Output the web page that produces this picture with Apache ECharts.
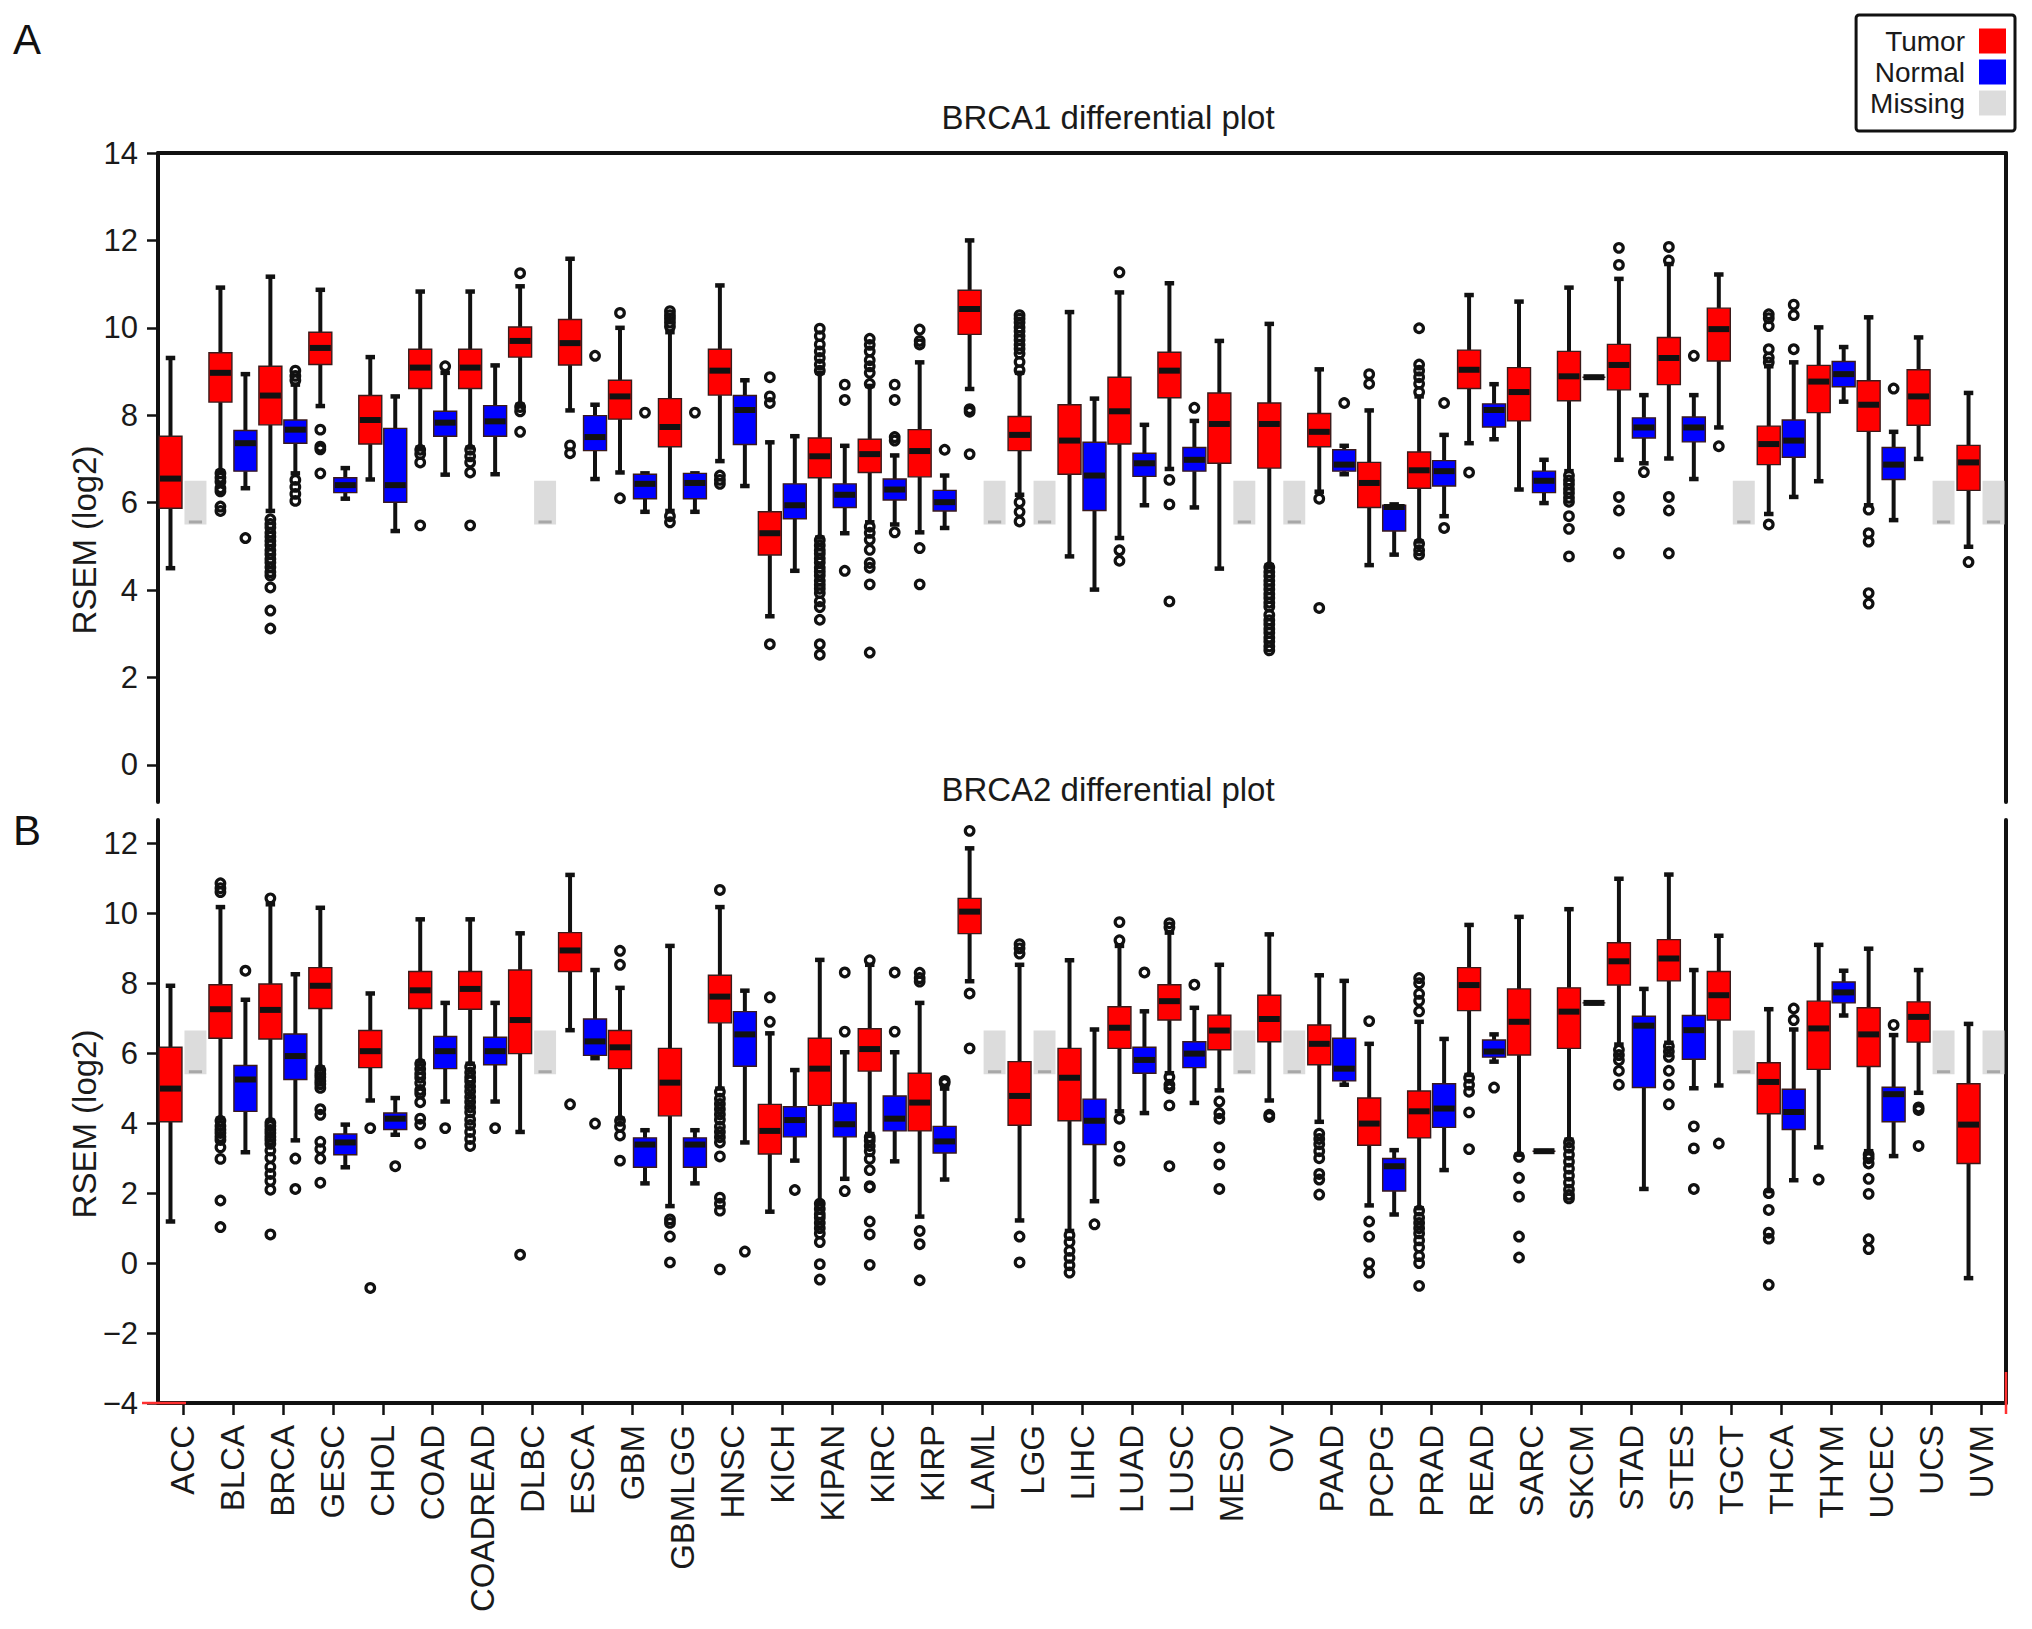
<!DOCTYPE html>
<html><head><meta charset="utf-8">
<script src="https://cdn.jsdelivr.net/npm/echarts@6/dist/echarts.min.js"></script>
<style>html,body{margin:0;padding:0;background:#fff}#c{width:2032px;height:1629px}</style>
</head><body><div id="c"></div>
<script>
// ---------- DATA ----------
const categories = ['ACC','BLCA','BRCA','GESC','CHOL','COAD','COADREAD','DLBC','ESCA','GBM','GBMLGG','HNSC','KICH','KIPAN','KIRC','KIRP','LAML','LGG','LIHC','LUAD','LUSC','MESO','OV','PAAD','PCPG','PRAD','READ','SARC','SKCM','STAD','STES','TGCT','THCA','THYM','UCEC','UCS','UVM'];

const brca1Ticks = [0, 2, 4, 6, 8, 10, 12, 14];
const brca2Ticks = [-4, -2, 0, 2, 4, 6, 8, 10, 12];

// [min, Q1, median, Q3, max]
const brca1Tumor = [
  [4.50,5.87,6.55,7.52,9.31],[6.72,8.30,8.97,9.43,10.92],[5.81,7.78,8.45,9.12,11.17],[8.21,9.16,9.54,9.90,10.87],
  [6.53,7.34,7.89,8.45,9.33],[7.26,8.61,9.09,9.51,10.83],[7.26,8.61,9.09,9.51,10.83],[8.24,9.33,9.70,10.02,10.95],
  [8.11,9.15,9.65,10.19,11.58],[6.69,7.91,8.43,8.80,10.00],[5.81,7.28,7.73,8.38,9.90],[6.95,8.46,9.02,9.51,10.97],
  [3.40,4.80,5.30,5.79,7.38],[5.20,6.57,7.06,7.48,8.97],[5.55,6.69,7.11,7.45,8.67],[5.32,6.59,7.18,7.67,9.21],
  [8.60,9.85,10.43,10.86,12.00],[6.18,7.19,7.55,7.97,8.97],[4.77,6.65,7.42,8.24,10.36],[5.19,7.34,8.09,8.87,10.81],
  [6.77,8.40,9.02,9.44,11.02],[4.49,6.90,7.80,8.51,9.70],[4.57,6.79,7.80,8.28,10.09],[6.25,7.28,7.62,8.04,9.05],
  [4.57,5.89,6.45,6.92,8.11],[5.11,6.33,6.74,7.16,8.43],[7.36,8.61,9.04,9.49,10.75],[6.30,7.87,8.53,9.09,10.60],
  [6.72,8.33,8.89,9.46,10.92],[6.98,8.58,9.15,9.62,11.12],[7.01,8.70,9.31,9.78,11.46],[7.72,9.24,9.97,10.45,11.22],
  [5.74,6.87,7.34,7.75,9.12],[6.49,8.06,8.77,9.14,10.01],[5.94,7.63,8.24,8.79,10.24],[7.00,7.77,8.43,9.04,9.78],
  [4.99,6.28,6.92,7.31,8.51]
];
const brca1Normal = [
  null,[6.33,6.72,7.36,7.65,8.94],[6.67,7.36,7.67,7.89,8.70],[6.09,6.23,6.40,6.57,6.79],
  [5.35,6.01,6.40,7.70,8.43],[6.64,7.52,7.83,8.09,8.97],[6.65,7.52,7.86,8.22,9.14],null,
  [6.54,7.19,7.50,7.99,8.24],[5.79,6.09,6.43,6.65,6.67],[5.79,6.09,6.45,6.67,6.67],[6.38,7.33,8.12,8.45,8.80],
  [4.44,5.63,5.94,6.43,7.52],[5.30,5.89,6.18,6.43,7.30],[5.50,6.06,6.30,6.54,7.08],[5.42,5.81,6.01,6.28,6.62],
  null,null,[4.01,5.82,6.62,7.38,8.38],[5.94,6.60,6.90,7.13,7.78],
  [5.89,6.72,6.98,7.26,7.87],null,null,[6.65,6.72,6.87,7.21,7.30],
  [4.81,5.35,5.90,5.94,5.96],[5.69,6.38,6.72,6.96,7.55],[7.45,7.73,8.12,8.26,8.71],[5.99,6.23,6.50,6.72,6.98],
  [8.87,8.87,8.87,8.87,8.87],[6.90,7.48,7.72,7.94,8.46],[6.54,7.39,7.72,7.96,8.46],null,
  [6.13,7.04,7.42,7.89,9.21],[8.31,8.65,8.94,9.23,9.56],[5.60,6.53,6.87,7.26,7.62],null,
  null
];
const brca1TumorOutliers = [
  [],[6.67,6.57,6.48,6.33,6.26,5.91,5.81],
  [5.62,5.51,5.43,5.31,5.22,5.12,5.03,4.91,4.82,4.71,4.63,4.52,4.41,4.33,4.06,3.53,3.12],
  [7.67,7.28,7.22,6.67],[],[7.21,7.11,6.92,5.48],[7.21,7.06,6.92,6.69,5.48],[11.25,8.19,8.09,7.62],
  [7.31,7.13],[10.34,6.10],[10.38,10.29,10.21,10.12,10.03,5.69,5.55],[6.62,6.52,6.43],[8.87,8.43,8.28,2.76],
  [9.98,9.81,9.62,9.46,9.31,9.16,9.02,5.14,5.02,4.91,4.83,4.72,4.63,4.51,4.42,4.33,4.21,4.12,4.03,3.93,3.74,3.61,3.32,2.76,2.52],
  [9.75,9.61,9.46,9.26,9.12,8.97,8.72,5.45,5.31,5.15,4.92,4.62,4.51,4.13,2.57],
  [9.96,9.70,9.62,4.96,4.13],[8.14,8.08,7.11],
  [10.29,10.21,10.12,10.01,9.92,9.81,9.72,9.61,9.52,9.41,9.22,9.03,6.01,5.79,5.57],
  [],[11.27,4.91,4.67],[6.52,5.96,3.74],[],
  [4.52,4.41,4.32,4.21,4.12,4.02,3.91,3.82,3.71,3.62,3.43,3.31,3.22,3.11,3.02,2.91,2.82,2.71,2.62],
  [6.09,3.59],[8.94,8.72],[9.99,9.16,9.02,8.87,8.72,8.53,5.06,4.91,4.81],[6.69],[],
  [6.62,6.51,6.42,6.31,6.22,6.11,6.02,5.69,5.40,4.77],[11.83,11.44,6.13,5.82,4.84],[11.85,11.54,6.13,5.82,4.84],
  [7.29],[10.31,10.22,10.04,9.51,9.32,9.21,5.50],[],[5.84,5.30,5.11,3.93,3.69],[],[4.64]
];
const brca1NormalOutliers = [
  [],[5.19],[9.02,8.90,8.80,6.52,6.36,6.20,6.04],[],[],[9.12],[],[],
  [9.36],[8.06],[8.06],[],[],[8.70,8.35,4.44],[8.70,8.35,7.50,7.42,5.32],[7.21],
  [],[],[],[],[8.17],[],[],[8.28],
  [],[8.28,5.42],[],[],[],[6.70],[9.36],[],
  [10.53,10.29,9.51],[],[8.61],[],[]
];
const brca1MissingRange = [5.5, 6.5];

const brca2Tumor = [
  [1.19,4.04,4.99,6.17,7.93],[4.13,6.43,7.26,7.96,10.18],[4.07,6.41,7.24,7.98,10.26],[5.59,7.28,7.93,8.45,10.16],
  [4.65,5.59,6.06,6.65,7.71],[5.76,7.28,7.80,8.34,9.83],[5.70,7.26,7.84,8.34,9.83],[3.75,5.99,6.95,8.38,9.43],
  [6.66,8.34,8.94,9.45,11.10],[4.13,5.56,6.17,6.65,7.87],[1.63,4.21,5.16,6.14,9.07],[4.99,6.87,7.62,8.23,10.18],
  [1.47,3.12,3.78,4.54,6.57],[1.74,4.51,5.56,6.43,8.67],[3.69,5.49,6.12,6.70,8.53],[1.33,3.78,4.59,5.43,7.44],
  [8.06,9.42,10.05,10.43,11.86],[1.22,3.94,4.78,5.76,8.53],[0.92,4.07,5.30,6.14,8.66],[4.34,6.14,6.73,7.33,9.07],
  [5.43,6.95,7.49,7.96,9.45],[4.94,6.10,6.65,7.09,8.53],[4.65,6.33,6.98,7.66,9.40],[4.04,5.67,6.27,6.81,8.23],
  [1.65,3.37,3.99,4.72,6.27],[1.57,3.58,4.34,4.92,6.90],[5.38,7.22,7.95,8.45,9.67],[3.10,5.95,6.90,7.84,9.90],
  [3.53,6.14,7.19,7.87,10.12],[6.25,7.95,8.63,9.16,10.99],[6.30,8.07,8.71,9.25,11.11],[5.08,6.95,7.66,8.34,9.36],
  [2.06,4.27,5.18,5.73,7.26],[3.31,5.54,6.71,7.49,9.10],[3.20,5.62,6.54,7.30,8.99],[4.87,6.32,7.04,7.47,8.38],
  [-0.43,2.85,3.96,5.13,6.84]
];
const brca2Normal = [
  null,[3.17,4.34,5.25,5.65,7.53],[3.51,5.25,5.92,6.55,8.26],[2.74,3.10,3.45,3.69,3.96],
  [3.67,3.82,4.13,4.29,4.72],[4.62,5.56,6.06,6.48,7.44],[4.62,5.67,6.06,6.46,7.44],null,
  [5.86,5.94,6.34,6.98,8.38],[2.28,2.74,3.39,3.58,3.80],[2.28,2.74,3.39,3.58,3.80],[3.45,5.63,6.54,7.19,7.79],
  [2.93,3.61,4.09,4.47,5.52],[2.41,3.61,3.97,4.58,6.03],[2.91,3.78,4.13,4.78,6.03],[2.39,3.15,3.48,3.91,4.99],
  null,null,[1.77,3.39,4.07,4.69,6.68],[4.29,5.43,5.81,6.17,7.20],
  [4.58,5.59,5.99,6.33,7.30],null,null,[5.10,5.21,5.56,6.43,8.07],
  [1.39,2.06,2.77,2.99,3.23],[2.66,3.88,4.42,5.13,6.41],[5.76,5.89,6.05,6.38,6.54],[3.20,3.20,3.20,3.20,3.20],
  [7.44,7.44,7.44,7.44,7.44],[2.12,5.02,6.79,7.06,7.84],[5.00,5.83,6.66,7.08,8.38],null,
  [2.37,3.82,4.32,4.97,6.68],[7.08,7.44,7.74,8.04,8.36],[3.06,4.04,4.83,5.03,6.52],null,
  null
];
const brca2TumorOutliers = [
  [],[10.86,10.72,10.61,4.07,3.92,3.81,3.72,3.61,3.52,3.31,2.98,1.79,1.03],
  [10.43,4.01,3.92,3.81,3.72,3.61,3.52,3.41,3.22,3.01,2.75,2.55,2.35,2.10,0.82],
  [5.52,5.41,5.32,5.21,5.12,5.01,4.40,4.24,3.47,3.26,2.99,2.30],[3.86,-0.71],
  [5.70,5.55,5.41,5.30,5.15,4.95,4.85,4.60,4.13,3.96,3.42],
  [5.61,5.45,5.31,5.20,5.05,4.91,4.75,4.61,4.45,4.31,4.10,3.95,3.75,3.55,3.35],
  [0.24],[4.54],[8.93,8.53,4.07,3.90,3.65,2.93],[1.25,1.15,0.76,0.02],
  [10.67,4.90,4.70,4.55,4.40,4.25,4.10,3.90,3.75,3.60,3.45,3.05,1.87,1.70,1.50,-0.18],
  [7.60,6.90],[1.70,1.55,1.40,1.30,1.15,1.00,0.85,0.60,-0.03,-0.47],
  [8.66,3.60,3.50,3.35,3.20,2.98,2.66,2.20,2.17,1.19,0.82,-0.05],[8.30,8.15,8.05,0.92,0.54,-0.49],
  [12.36,7.71,6.14],[9.12,9.00,8.85,0.76,0.02],[0.80,0.60,0.35,0.15,-0.06,-0.27],[9.75,9.23,4.13,3.33,2.93],
  [9.72,9.60,5.32,5.10,5.00,4.51,2.77],[4.62,4.29,4.13,3.31,2.82,2.12],[4.24,4.18],
  [3.70,3.55,3.40,3.20,3.00,2.55,2.39,1.96],[6.92,1.19,0.76,0.00,-0.27],
  [8.15,8.00,7.70,7.50,7.20,1.50,1.30,1.15,1.00,0.85,0.65,0.45,0.20,0.00,-0.65],
  [5.30,5.10,4.90,4.31,3.26],[3.04,2.44,1.90,0.76,0.16],[3.45,3.30,3.10,2.90,2.70,2.50,2.30,2.10,1.95,1.85],
  [6.10,5.95,5.80,5.50,5.10],[6.20,6.05,5.90,5.50,5.10,4.54],[3.42],[2.00,1.52,0.87,0.70,-0.62],[2.39],
  [3.10,3.00,2.85,2.41,1.98,0.68,0.40],[4.45,4.38,3.35],[]
];
const brca2NormalOutliers = [
  [],[8.36],[2.99,2.12],[],[2.77],[3.86],[3.86],[],
  [3.99],[],[],[0.33],[2.09],[8.31,6.62,2.06],[8.31,6.62],[5.21,5.15],
  [],[],[1.11],[8.31],[7.96],[],[],[],
  [],[],[5.02],[],[],[],[3.91,3.28,2.12],[],
  [7.28,6.95],[],[6.81],[],[]
];
const brca2MissingRange = [5.4, 6.65];

// ---------- STYLE / BUILDERS ----------
const FONT = "'Liberation Sans', Arial, Helvetica, sans-serif";
const INK = '#111111';
const RED = '#ff0000', BLUE = '#0000ff', GREY = '#dcdcdc';

function boxSeries(name, data, side, fill, xi, yi) {
  const items = [];
  data.forEach((d, i) => { if (d) items.push([i].concat(d)); });
  return {
    type: 'custom', name: name, xAxisIndex: xi, yAxisIndex: yi,
    itemStyle: { color: fill }, encode: { x: 0, y: [1, 2, 3, 4, 5] }, data: items, z: 2,
    renderItem: function (params, api) {
      const c = api.value(0);
      const band = api.size([1, 0])[0];
      const pMin = api.coord([c, api.value(1)]);
      const pQ1 = api.coord([c, api.value(2)]);
      const pMed = api.coord([c, api.value(3)]);
      const pQ3 = api.coord([c, api.value(4)]);
      const pMax = api.coord([c, api.value(5)]);
      const x = pMin[0] + side * band / 4;
      const bw = band * 0.46, cap = band * 0.19;
      return { type: 'group', children: [
        { type: 'line', shape: { x1: x, y1: pMax[1], x2: x, y2: pQ3[1] }, style: { stroke: INK, lineWidth: 4 } },
        { type: 'line', shape: { x1: x, y1: pQ1[1], x2: x, y2: pMin[1] }, style: { stroke: INK, lineWidth: 4 } },
        { type: 'line', shape: { x1: x - cap / 2, y1: pMax[1], x2: x + cap / 2, y2: pMax[1] }, style: { stroke: INK, lineWidth: 4.5 } },
        { type: 'line', shape: { x1: x - cap / 2, y1: pMin[1], x2: x + cap / 2, y2: pMin[1] }, style: { stroke: INK, lineWidth: 4.5 } },
        { type: 'rect', shape: { x: x - bw / 2, y: pQ3[1], width: bw, height: pQ1[1] - pQ3[1] }, style: { fill: fill, stroke: '#3a1a1a', lineWidth: 1.4 } },
        { type: 'line', shape: { x1: x - bw / 2 + 1, y1: pMed[1], x2: x + bw / 2 - 1, y2: pMed[1] }, style: { stroke: INK, lineWidth: 6 } }
      ] };
    }
  };
}

function outlierSeries(name, lists, side, xi, yi) {
  const items = [];
  lists.forEach((arr, i) => { (arr || []).forEach(v => items.push([i, v])); });
  return {
    type: 'custom', name: name, xAxisIndex: xi, yAxisIndex: yi,
    encode: { x: 0, y: 1 }, data: items, z: 3, silent: true,
    renderItem: function (params, api) {
      const band = api.size([1, 0])[0];
      const p = api.coord([api.value(0), api.value(1)]);
      return { type: 'circle', shape: { cx: p[0] + side * band / 4, cy: p[1], r: 4.3 },
               style: { fill: 'none', stroke: INK, lineWidth: 3.2 } };
    }
  };
}

function missingSeries(normal, range, xi, yi) {
  const items = [];
  normal.forEach((d, i) => { if (!d) items.push([i, range[0], range[1]]); });
  return {
    type: 'custom', name: 'Missing', xAxisIndex: xi, yAxisIndex: yi,
    itemStyle: { color: GREY }, encode: { x: 0, y: [1, 2] }, data: items, z: 1,
    renderItem: function (params, api) {
      const band = api.size([1, 0])[0];
      const lo = api.coord([api.value(0), api.value(1)]);
      const hi = api.coord([api.value(0), api.value(2)]);
      const x = lo[0] + band / 4, bw = band * 0.44;
      return { type: 'group', children: [
        { type: 'rect', shape: { x: x - bw / 2, y: hi[1], width: bw, height: lo[1] - hi[1] }, style: { fill: GREY } },
        { type: 'line', shape: { x1: x - bw * 0.3, y1: lo[1] - 2.5, x2: x + bw * 0.3, y2: lo[1] - 2.5 }, style: { stroke: '#a8a8a8', lineWidth: 3 } }
      ] };
    }
  };
}

const minusFmt = v => (v < 0 ? '\u2212' + Math.abs(v) : String(v));
const axisLineStyle = { color: INK, width: 4 };

function leftY(gridIndex, min, max, ticks) {
  return {
    type: 'value', gridIndex: gridIndex, position: 'left', min: min, max: max,
    axisLine: { show: true, onZero: false, lineStyle: axisLineStyle },
    axisTick: { show: true, customValues: ticks, length: 11, lineStyle: { color: INK, width: 2.5 } },
    axisLabel: { show: true, customValues: ticks, formatter: minusFmt, margin: 20, fontSize: 31, color: '#1a1a1a', fontFamily: FONT },
    splitLine: { show: false }
  };
}
function rightY(gridIndex, min, max) {
  return {
    type: 'value', gridIndex: gridIndex, position: 'right', min: min, max: max,
    axisLine: { show: true, onZero: false, lineStyle: axisLineStyle },
    axisTick: { show: false }, axisLabel: { show: false }, splitLine: { show: false }
  };
}

const option = {
  animation: false,
  backgroundColor: '#ffffff',
  grid: [
    { left: 158, right: 26, top: 153, height: 649 },
    { left: 158, right: 26, top: 820, height: 583 }
  ],
  xAxis: [
    { type: 'category', gridIndex: 0, data: categories, position: 'bottom',
      axisLine: { show: false, onZero: false }, axisTick: { show: false }, axisLabel: { show: false } },
    { type: 'category', gridIndex: 0, data: categories, position: 'top',
      axisLine: { show: true, onZero: false, lineStyle: axisLineStyle }, axisTick: { show: false }, axisLabel: { show: false } },
    { type: 'category', gridIndex: 1, data: categories, position: 'bottom',
      axisLine: { show: true, onZero: false, lineStyle: axisLineStyle },
      axisTick: { show: true, alignWithLabel: true, length: 12, lineStyle: { color: INK, width: 2.5 } },
      axisLabel: { show: true, rotate: 90, interval: 0, margin: 22, fontSize: 33, color: '#1a1a1a', fontFamily: FONT } }
  ],
  yAxis: [
    leftY(0, -0.85, 14, brca1Ticks),
    rightY(0, -0.85, 14),
    leftY(1, -4, 12.67, brca2Ticks),
    rightY(1, -4, 12.67)
  ],
  legend: {
    data: [{ name: 'Tumor', icon: 'rect' }, { name: 'Normal', icon: 'rect' }, { name: 'Missing', icon: 'rect' }],
    orient: 'vertical', right: 17, top: 15, align: 'right', selectedMode: false,
    itemWidth: 27, itemHeight: 25, itemGap: 3,
    padding: [12, 9, 14, 14],
    borderColor: INK, borderWidth: 3, borderRadius: 3, backgroundColor: '#ffffff',
    textStyle: { fontSize: 28, color: '#1a1a1a', fontFamily: FONT, padding: [0, 9, 0, 0] }
  },
  series: [
    missingSeries(brca1Normal, brca1MissingRange, 0, 0),
    boxSeries('Tumor', brca1Tumor, -1, RED, 0, 0),
    boxSeries('Normal', brca1Normal, 1, BLUE, 0, 0),
    outlierSeries('Tumor outliers A', brca1TumorOutliers, -1, 0, 0),
    outlierSeries('Normal outliers A', brca1NormalOutliers, 1, 0, 0),
    missingSeries(brca2Normal, brca2MissingRange, 2, 2),
    boxSeries('Tumor', brca2Tumor, -1, RED, 2, 2),
    boxSeries('Normal', brca2Normal, 1, BLUE, 2, 2),
    outlierSeries('Tumor outliers B', brca2TumorOutliers, -1, 2, 2),
    outlierSeries('Normal outliers B', brca2NormalOutliers, 1, 2, 2)
  ],
  graphic: [
    { type: 'text', x: 13, y: 39, style: { text: 'A', fontSize: 42, fontFamily: FONT, fill: INK, align: 'left', verticalAlign: 'middle' } },
    { type: 'text', x: 13, y: 830, style: { text: 'B', fontSize: 42, fontFamily: FONT, fill: INK, align: 'left', verticalAlign: 'middle' } },
    { type: 'text', x: 1108, y: 117, style: { text: 'BRCA1 differential plot', fontSize: 33, fontFamily: FONT, fill: '#1a1a1a', align: 'center', verticalAlign: 'middle' } },
    { type: 'text', x: 1108, y: 789, style: { text: 'BRCA2 differential plot', fontSize: 33, fontFamily: FONT, fill: '#1a1a1a', align: 'center', verticalAlign: 'middle' } },
    { type: 'text', x: 84, y: 540, rotation: Math.PI / 2, style: { text: 'RSEM (log2)', fontSize: 33, fontFamily: FONT, fill: '#1a1a1a', align: 'center', verticalAlign: 'middle' } },
    { type: 'text', x: 84, y: 1124, rotation: Math.PI / 2, style: { text: 'RSEM (log2)', fontSize: 33, fontFamily: FONT, fill: '#1a1a1a', align: 'center', verticalAlign: 'middle' } },
    { type: 'line', z: 100, shape: { x1: 142, y1: 1403, x2: 186, y2: 1403 }, style: { stroke: '#ff3030', lineWidth: 2.5 } },
    { type: 'line', z: 100, shape: { x1: 2006, y1: 1372, x2: 2006, y2: 1414 }, style: { stroke: '#ff3030', lineWidth: 2.5 } }
  ]
};

const chart = echarts.init(document.getElementById('c'), null, { renderer: 'svg' });
chart.setOption(option);
</script>
</body></html>
